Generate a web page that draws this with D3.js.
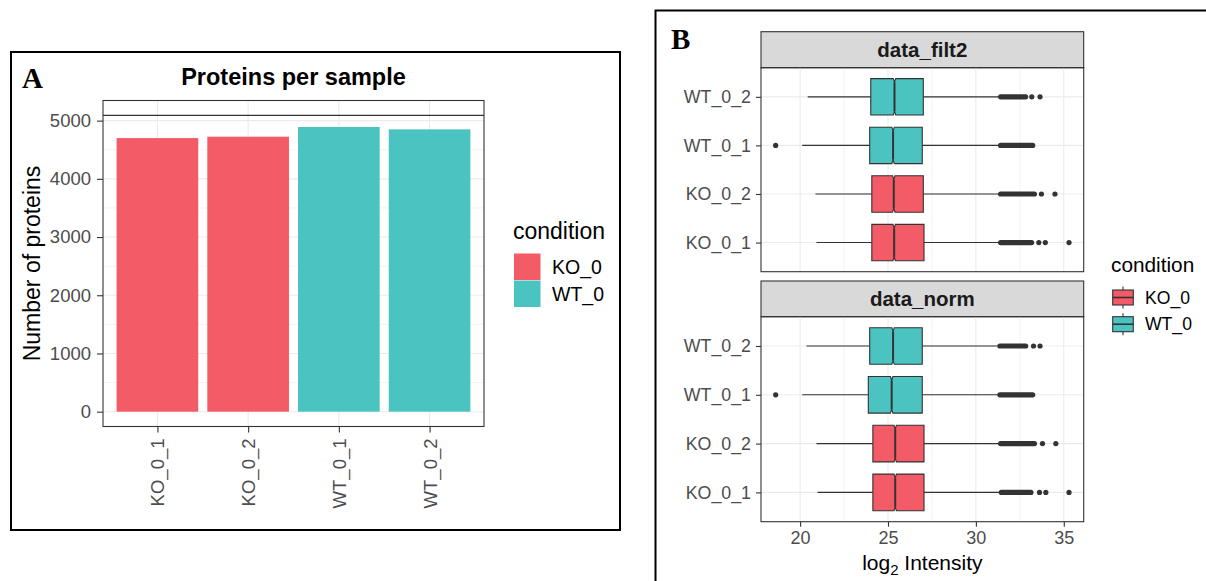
<!DOCTYPE html>
<html>
<head>
<meta charset="utf-8">
<script src="https://cdn.jsdelivr.net/npm/d3@7"></script>
<style>
  html, body { margin: 0; padding: 0; background: #fff; }
  svg { display: block; font-family: "Liberation Sans", Arial, sans-serif; }
</style>
</head>
<body>
<svg id="chart" width="1206" height="581"></svg>
<script>
// ---------------- DATA ----------------
// Panel A: proteins per sample
const samples = ["KO_0_1", "KO_0_2", "WT_0_1", "WT_0_2"];
const sampleCondition = ["KO_0", "KO_0", "WT_0", "WT_0"];
const proteinCounts = [4700, 4724, 4890, 4850];
const totalProteins = 5091;
const yTicksA = [0, 1000, 2000, 3000, 4000, 5000];
const yMinorA = [500, 1500, 2500, 3500, 4500];

// Legend
const conditions = ["KO_0", "WT_0"];
const conditionColors = ["#F35B67", "#4BC3C1"];

// Panel B: log2 intensity boxplots (rows listed top to bottom)
const facets = ["data_filt2", "data_norm"];
const boxSamples = ["WT_0_2", "WT_0_1", "KO_0_2", "KO_0_1"];
const boxCondition = ["WT_0", "WT_0", "KO_0", "KO_0"];

const filt2WhiskerLow  = [20.43, 20.12, 20.87, 20.93];
const filt2Q1          = [24.02, 23.96, 24.08, 24.08];
const filt2Median      = [25.37, 25.29, 25.33, 25.35];
const filt2Q3          = [27.01, 26.95, 27.01, 27.05];
const filt2DenseLow    = [31.26, 31.26, 31.26, 31.26];
const filt2DenseHigh   = [32.98, 33.38, 33.48, 33.32];
const filt2Outliers    = [[33.18, 33.65], [18.61], [33.73, 34.50], [33.58, 33.95, 35.30]];

const normWhiskerLow   = [20.36, 20.12, 20.93, 20.99];
const normQ1           = [23.96, 23.88, 24.14, 24.14];
const normMedian       = [25.29, 25.21, 25.41, 25.41];
const normQ3           = [26.95, 26.95, 27.05, 27.05];
const normDenseLow     = [31.22, 31.22, 31.26, 31.30];
const normDenseHigh    = [32.98, 33.38, 33.48, 33.28];
const normOutliers     = [[33.28, 33.65], [18.61], [33.79, 34.55], [33.62, 33.98, 35.30]];

const xTicksB = [20, 25, 30, 35];
const xMinorB = [22.5, 27.5, 32.5];

// ---------------- HELPERS ----------------
const svg = d3.select("#chart");
const colorScale = d3.scaleOrdinal().domain(conditions).range(conditionColors);
const GRID = "#EBEBEB", BORDER = "#333333", TICKTXT = "#4D4D4D";

// ---------------- PANEL A ----------------
svg.append("rect").attr("x", 11).attr("y", 52).attr("width", 609).attr("height", 478)
  .attr("fill", "none").attr("stroke", "#000").attr("stroke-width", 2);
svg.append("text").attr("x", 22).attr("y", 88).text("A")
  .attr("font-family", "Liberation Serif, Times New Roman, serif").attr("font-weight", "bold")
  .attr("font-size", 29).attr("fill", "#000");

const pA = {left: 103, right: 484, top: 100.5, bottom: 426.5};
const dataMaxA = Math.max(totalProteins, d3.max(proteinCounts));
const expA = dataMaxA * 0.05;
const yA = d3.scaleLinear().domain([0 - expA, dataMaxA + expA]).range([pA.bottom, pA.top]);
const xA = d3.scalePoint().domain(samples).range([pA.left, pA.right]).padding(0.6);
const stepA = xA.step();

const gA = svg.append("g");
// grid
gA.selectAll(".ymin").data(yMinorA).join("line")
  .attr("x1", pA.left).attr("x2", pA.right).attr("y1", d => yA(d)).attr("y2", d => yA(d))
  .attr("stroke", GRID).attr("stroke-width", 0.6);
gA.selectAll(".ymaj").data(yTicksA).join("line")
  .attr("x1", pA.left).attr("x2", pA.right).attr("y1", d => yA(d)).attr("y2", d => yA(d))
  .attr("stroke", GRID).attr("stroke-width", 1.1);
gA.selectAll(".xmaj").data(samples).join("line")
  .attr("x1", d => xA(d)).attr("x2", d => xA(d)).attr("y1", pA.top).attr("y2", pA.bottom)
  .attr("stroke", GRID).attr("stroke-width", 1.1);
// bars
gA.selectAll(".bar").data(samples).join("rect")
  .attr("x", d => xA(d) - stepA * 0.45).attr("width", stepA * 0.9)
  .attr("y", (d, i) => yA(proteinCounts[i]))
  .attr("height", (d, i) => yA(0) - yA(proteinCounts[i]))
  .attr("fill", (d, i) => colorScale(sampleCondition[i]));
// hline total
gA.append("line").attr("x1", pA.left).attr("x2", pA.right)
  .attr("y1", yA(totalProteins)).attr("y2", yA(totalProteins))
  .attr("stroke", BORDER).attr("stroke-width", 1.2);
// border
gA.append("rect").attr("x", pA.left).attr("y", pA.top)
  .attr("width", pA.right - pA.left).attr("height", pA.bottom - pA.top)
  .attr("fill", "none").attr("stroke", BORDER).attr("stroke-width", 1.1);
// y axis
const yAxisA = gA.append("g").attr("transform", `translate(${pA.left},0)`)
  .call(d3.axisLeft(yA).tickValues(yTicksA).tickSize(6).tickPadding(6).tickFormat(d3.format("d")));
yAxisA.select(".domain").remove();
yAxisA.selectAll("line").attr("stroke", BORDER).attr("stroke-width", 1.1);
yAxisA.selectAll("text").attr("font-size", 18.5).attr("fill", TICKTXT)
  .attr("font-family", "Liberation Sans, Arial, sans-serif");
// x axis
const xAxisA = gA.append("g").attr("transform", `translate(0,${pA.bottom})`)
  .call(d3.axisBottom(xA).tickSize(6).tickPadding(6));
xAxisA.select(".domain").remove();
xAxisA.selectAll("line").attr("stroke", BORDER).attr("stroke-width", 1.1);
xAxisA.selectAll("text").attr("font-size", 18.5).attr("fill", TICKTXT)
  .attr("font-family", "Liberation Sans, Arial, sans-serif")
  .attr("transform", "rotate(-90)").attr("text-anchor", "end")
  .attr("x", -12).attr("y", 0).attr("dy", "0.35em");
// title
gA.append("text").attr("x", (pA.left + pA.right) / 2).attr("y", 85).attr("text-anchor", "middle")
  .attr("font-size", 23.5).attr("font-weight", "bold").attr("fill", "#000").text("Proteins per sample");
// y title
gA.append("text").attr("transform", `translate(40,${(pA.top + pA.bottom) / 2}) rotate(-90)`)
  .attr("text-anchor", "middle").attr("font-size", 23).attr("fill", "#000").text("Number of proteins");
// legend A
const lgA = gA.append("g");
lgA.append("text").attr("x", 513).attr("y", 239).attr("font-size", 23).attr("fill", "#000").text("condition");
lgA.selectAll(".k").data(conditions).join("rect")
  .attr("x", 514).attr("y", (d, i) => 253.5 + i * 27).attr("width", 26.5).attr("height", 26.5)
  .attr("fill", d => colorScale(d));
lgA.selectAll(".l").data(conditions).join("text")
  .attr("x", 552).attr("y", (d, i) => 267 + i * 27).attr("dy", "0.35em")
  .attr("font-size", 19.5).attr("fill", "#000").text(d => d);

// ---------------- PANEL B ----------------
svg.append("path").attr("d", "M655.5,581 L655.5,10.5 L1206,10.5")
  .attr("fill", "none").attr("stroke", "#000").attr("stroke-width", 2);
svg.append("text").attr("x", 671).attr("y", 48.5).text("B")
  .attr("font-family", "Liberation Serif, Times New Roman, serif").attr("font-weight", "bold")
  .attr("font-size", 29).attr("fill", "#000");

const pB = {left: 761, right: 1083.7};
const facetPanels = [
  {strip: [31.7, 67.7], panel: [67.7, 271.7],
   wl: filt2WhiskerLow, q1: filt2Q1, med: filt2Median, q3: filt2Q3,
   dl: filt2DenseLow, dh: filt2DenseHigh, out: filt2Outliers},
  {strip: [281, 316.7], panel: [316.7, 521.7],
   wl: normWhiskerLow, q1: normQ1, med: normMedian, q3: normQ3,
   dl: normDenseLow, dh: normDenseHigh, out: normOutliers}
];
const allVals = [].concat(filt2WhiskerLow, normWhiskerLow, filt2DenseHigh, normDenseHigh,
  ...filt2Outliers, ...normOutliers);
const bMin = d3.min(allVals), bMax = d3.max(allVals);
const bExp = (bMax - bMin) * 0.05;
const xB = d3.scaleLinear().domain([bMin - bExp, bMax + bExp]).range([pB.left, pB.right]);
const countBySample = Object.fromEntries(samples.map((s, i) => [s, proteinCounts[i]]));

facetPanels.forEach((fp, fi) => {
  const g = svg.append("g");
  const top = fp.panel[0], bot = fp.panel[1];
  const yB = d3.scalePoint().domain(boxSamples).range([top, bot]).padding(0.6);
  const step = yB.step();
  const bh = step * 0.75;
  // strip
  g.append("rect").attr("x", pB.left).attr("y", fp.strip[0])
    .attr("width", pB.right - pB.left).attr("height", fp.strip[1] - fp.strip[0])
    .attr("fill", "#D9D9D9").attr("stroke", BORDER).attr("stroke-width", 1.1);
  g.append("text").attr("x", (pB.left + pB.right) / 2).attr("y", (fp.strip[0] + fp.strip[1]) / 2)
    .attr("dy", "0.36em").attr("text-anchor", "middle").attr("font-size", 20.5)
    .attr("font-weight", "bold").attr("fill", "#1A1A1A").text(facets[fi]);
  // grid
  g.selectAll(".xmin").data(xMinorB).join("line")
    .attr("x1", d => xB(d)).attr("x2", d => xB(d)).attr("y1", top).attr("y2", bot)
    .attr("stroke", GRID).attr("stroke-width", 0.6);
  g.selectAll(".xmaj").data(xTicksB).join("line")
    .attr("x1", d => xB(d)).attr("x2", d => xB(d)).attr("y1", top).attr("y2", bot)
    .attr("stroke", GRID).attr("stroke-width", 1.1);
  g.selectAll(".ymaj").data(boxSamples).join("line")
    .attr("x1", pB.left).attr("x2", pB.right).attr("y1", d => yB(d)).attr("y2", d => yB(d))
    .attr("stroke", GRID).attr("stroke-width", 1.1);
  // boxes
  boxSamples.forEach((s, i) => {
    const cy = yB(s);
    const q1 = fp.q1[i], q3 = fp.q3[i], med = fp.med[i];
    const n = countBySample[s];
    const notch = 1.58 * (q3 - q1) / Math.sqrt(n);
    const t = cy - bh / 2, b = cy + bh / 2;
    const depth = bh * 0.11;
    // whiskers
    g.append("line").attr("x1", xB(fp.wl[i])).attr("x2", xB(q1)).attr("y1", cy).attr("y2", cy)
      .attr("stroke", BORDER).attr("stroke-width", 1.1);
    g.append("line").attr("x1", xB(q3)).attr("x2", xB(fp.dl[i]) + 2).attr("y1", cy).attr("y2", cy)
      .attr("stroke", BORDER).attr("stroke-width", 1.1);
    // notched box
    const pts = [
      [xB(q1), t], [xB(med - notch), t], [xB(med), t + depth], [xB(med + notch), t], [xB(q3), t],
      [xB(q3), b], [xB(med + notch), b], [xB(med), b - depth], [xB(med - notch), b], [xB(q1), b]
    ];
    g.append("path").attr("d", d3.line()(pts) + "Z")
      .attr("fill", colorScale(boxCondition[i])).attr("stroke", BORDER).attr("stroke-width", 1.1);
    g.append("line").attr("x1", xB(med)).attr("x2", xB(med))
      .attr("y1", t + depth).attr("y2", b - depth)
      .attr("stroke", BORDER).attr("stroke-width", 2);
    // dense outlier run
    const r = 2.6;
    g.append("rect").attr("x", xB(fp.dl[i])).attr("y", cy - r)
      .attr("width", xB(fp.dh[i]) - xB(fp.dl[i])).attr("height", 2 * r).attr("rx", r)
      .attr("fill", BORDER);
    // individual outliers
    g.selectAll(null).data(fp.out[i]).join("circle")
      .attr("cx", d => xB(d)).attr("cy", cy).attr("r", r).attr("fill", BORDER);
  });
  // border
  g.append("rect").attr("x", pB.left).attr("y", top).attr("width", pB.right - pB.left)
    .attr("height", bot - top).attr("fill", "none").attr("stroke", BORDER).attr("stroke-width", 1.1);
  // y axis
  const ya = g.append("g").attr("transform", `translate(${pB.left},0)`)
    .call(d3.axisLeft(yB).tickSize(5).tickPadding(5));
  ya.select(".domain").remove();
  ya.selectAll("line").attr("stroke", BORDER).attr("stroke-width", 1.1);
  ya.selectAll("text").attr("font-size", 17.8).attr("fill", TICKTXT)
    .attr("font-family", "Liberation Sans, Arial, sans-serif");
  // x axis on bottom facet only
  if (fi === facetPanels.length - 1) {
    const xa = g.append("g").attr("transform", `translate(0,${bot})`)
      .call(d3.axisBottom(xB).tickValues(xTicksB).tickSize(5).tickPadding(5));
    xa.select(".domain").remove();
    xa.selectAll("line").attr("stroke", BORDER).attr("stroke-width", 1.1);
    xa.selectAll("text").attr("font-size", 18).attr("fill", TICKTXT)
      .attr("font-family", "Liberation Sans, Arial, sans-serif");
  }
});
// x title
const xt = svg.append("text").attr("x", (pB.left + pB.right) / 2).attr("y", 570)
  .attr("text-anchor", "middle").attr("font-size", 21).attr("fill", "#000");
xt.append("tspan").text("log");
xt.append("tspan").attr("font-size", 15).attr("dy", 5).text("2");
xt.append("tspan").attr("dy", -5).text(" Intensity");

// legend B
const lgB = svg.append("g");
lgB.append("text").attr("x", 1111).attr("y", 272).attr("font-size", 20.8).attr("fill", "#000").text("condition");
conditions.forEach((c, i) => {
  const cy = 297.5 + i * 26.7;
  const x0 = 1112.7, w = 20.6, h = 15;
  lgB.append("line").attr("x1", x0 + w / 2).attr("x2", x0 + w / 2)
    .attr("y1", cy - h / 2 - 3.5).attr("y2", cy + h / 2 + 3.5)
    .attr("stroke", BORDER).attr("stroke-width", 1.1);
  lgB.append("rect").attr("x", x0).attr("y", cy - h / 2).attr("width", w).attr("height", h)
    .attr("fill", colorScale(c)).attr("stroke", BORDER).attr("stroke-width", 1.1);
  lgB.append("line").attr("x1", x0).attr("x2", x0 + w).attr("y1", cy).attr("y2", cy)
    .attr("stroke", BORDER).attr("stroke-width", 1.6);
  lgB.append("text").attr("x", 1145).attr("y", cy).attr("dy", "0.35em")
    .attr("font-size", 17.6).attr("fill", "#000").text(c);
});
</script>
</body>
</html>
